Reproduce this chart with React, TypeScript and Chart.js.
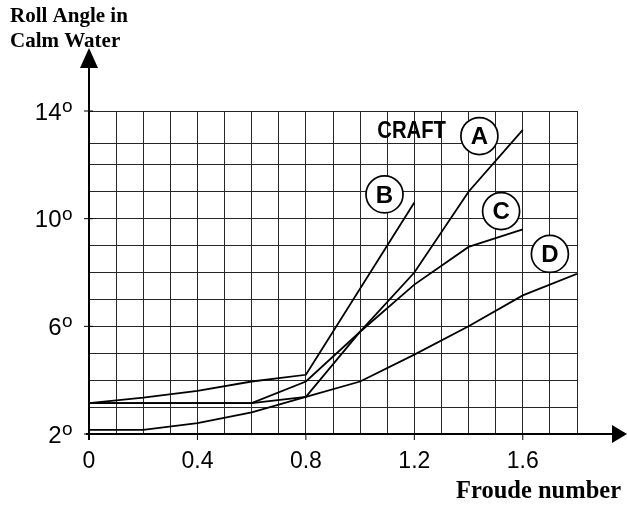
import React, { useEffect, useRef } from 'react';
import { Chart, registerables } from 'chart.js';

Chart.register(...registerables);

// Froude number (x) and roll angle in calm water, degrees (y), per craft
const craftAX = [0, 0.6, 0.8, 1.0, 1.2, 1.4, 1.6];
const craftAY = [3.15, 3.15, 3.38, 5.8, 8.0, 11.0, 13.3];
const craftBX = [0, 0.2, 0.4, 0.6, 0.8, 1.2];
const craftBY = [3.15, 3.35, 3.6, 3.95, 4.2, 10.6];
const craftCX = [0, 0.6, 0.8, 1.0, 1.2, 1.4, 1.6];
const craftCY = [3.15, 3.15, 3.95, 5.8, 7.55, 8.95, 9.6];
const craftDX = [0, 0.2, 0.4, 0.6, 0.8, 1.0, 1.2, 1.4, 1.6, 1.8];
const craftDY = [2.15, 2.15, 2.4, 2.8, 3.38, 3.95, 4.95, 6.0, 7.15, 7.95];

const xTickLabels = [0, 0.4, 0.8, 1.2, 1.6];
const yTickLabels = [2, 6, 10, 14];
const xGridLines = [0, 0.1, 0.2, 0.3, 0.4, 0.5, 0.6, 0.7, 0.8, 0.9, 1.0, 1.1, 1.2, 1.3, 1.4, 1.5, 1.6, 1.7, 1.8];
const yGridLines = [2, 3, 4, 5, 6, 7, 8, 9, 10, 11, 12, 12.8, 14];

// circled craft names, anchored in data coordinates
const craftNames = ['A', 'B', 'C', 'D'];
const craftNameX = [1.44, 1.09, 1.52, 1.70];
const craftNameY = [13.07, 10.9, 10.28, 8.69];
const craftHeading = 'CRAFT';
const craftHeadingX = 1.19;
const craftHeadingY = 13.25;

const yTitle = ['Roll Angle in', 'Calm Water'];
const xTitle = 'Froude number';

const toPoints = (xs: number[], ys: number[]) => xs.map((x, i) => ({ x, y: ys[i] }));

const overlay = {
  id: 'overlay',
  afterDraw(chart: any) {
    const { ctx, chartArea } = chart;
    const xs = chart.scales.x;
    const ys = chart.scales.y;
    const x0 = xs.getPixelForValue(0);
    const y0 = ys.getPixelForValue(2);
    ctx.save();
    ctx.strokeStyle = '#000';
    ctx.fillStyle = '#000';

    // axes
    ctx.lineWidth = 2;
    ctx.beginPath();
    ctx.moveTo(x0, y0 + 6);
    ctx.lineTo(x0, chartArea.top - 44);
    ctx.stroke();
    ctx.beginPath();
    ctx.moveTo(x0, chartArea.top - 63);
    ctx.lineTo(x0 - 9, chartArea.top - 43);
    ctx.lineTo(x0 + 9, chartArea.top - 43);
    ctx.closePath();
    ctx.fill();

    ctx.beginPath();
    ctx.moveTo(x0 - 3, y0);
    ctx.lineTo(chart.width - 14, y0);
    ctx.stroke();
    ctx.beginPath();
    ctx.moveTo(chart.width, y0);
    ctx.lineTo(chart.width - 15, y0 - 9);
    ctx.lineTo(chart.width - 15, y0 + 9);
    ctx.closePath();
    ctx.fill();

    // tick marks and labels
    ctx.lineWidth = 1;
    ctx.font = '23px "Liberation Sans", Arial, sans-serif';
    ctx.textBaseline = 'alphabetic';
    xTickLabels.forEach((v) => {
      const px = xs.getPixelForValue(v);
      ctx.beginPath();
      ctx.moveTo(px, y0);
      ctx.lineTo(px, y0 + 6);
      ctx.stroke();
      ctx.textAlign = 'center';
      ctx.fillText(String(v), px, y0 + 34);
    });
    yTickLabels.forEach((v) => {
      const py = ys.getPixelForValue(v);
      ctx.beginPath();
      ctx.moveTo(x0 - 5, py);
      ctx.lineTo(x0 + 4, py);
      ctx.stroke();
      ctx.font = '24px "Liberation Sans", Arial, sans-serif';
      ctx.textAlign = 'right';
      const base = py + 8.5;
      ctx.fillText(String(v), 61.5, base);
      ctx.font = '19px "Liberation Sans", Arial, sans-serif';
      ctx.textAlign = 'left';
      ctx.fillText('o', 62, base - 7.5);
    });

    // axis titles
    ctx.font = 'bold 21px "Liberation Serif", "Times New Roman", serif';
    ctx.textAlign = 'left';
    ctx.fillText(yTitle[0], 10, 22);
    ctx.fillText(yTitle[1], 10, 47);
    ctx.font = 'bold 24.5px "Liberation Serif", "Times New Roman", serif';
    ctx.textAlign = 'right';
    ctx.fillText(xTitle, 621, 498);

    // craft annotations
    ctx.textAlign = 'center';
    ctx.textBaseline = 'middle';
    ctx.font = 'bold 22px "Liberation Sans", Arial, sans-serif';
    const hx = xs.getPixelForValue(craftHeadingX);
    const hy = ys.getPixelForValue(craftHeadingY);
    ctx.save();
    ctx.translate(hx, hy);
    ctx.scale(0.92, 1.05);
    ctx.fillText(craftHeading, 0, 0);
    ctx.restore();
    craftNames.forEach((name, i) => {
      const cx = xs.getPixelForValue(craftNameX[i]);
      const cy = ys.getPixelForValue(craftNameY[i]);
      ctx.fillStyle = '#fff';
      ctx.beginPath();
      ctx.arc(cx, cy, 18.5, 0, Math.PI * 2);
      ctx.fill();
      ctx.lineWidth = 1.7;
      ctx.stroke();
      ctx.fillStyle = '#000';
      ctx.font = 'bold 24px "Liberation Sans", Arial, sans-serif';
      ctx.fillText(name, cx, cy + 1.5);
    });
    ctx.restore();
  },
};

export default function App() {
  const ref = useRef<HTMLCanvasElement | null>(null);
  useEffect(() => {
    if (!ref.current) return;
    const line = (xs: number[], ys: number[]) => ({
      data: toPoints(xs, ys),
      showLine: true,
      borderColor: '#000',
      borderWidth: 1.8,
      pointRadius: 0,
      tension: 0,
      fill: false,
    });
    const chart = new Chart(ref.current, {
      type: 'scatter',
      data: {
        datasets: [
          { label: 'A', ...line(craftAX, craftAY) },
          { label: 'B', ...line(craftBX, craftBY) },
          { label: 'C', ...line(craftCX, craftCY) },
          { label: 'D', ...line(craftDX, craftDY) },
        ],
      },
      options: {
        animation: false,
        responsive: false,
        devicePixelRatio: 1,
        layout: { padding: { left: 89, top: 111, right: 50, bottom: 71 } },
        plugins: { legend: { display: false }, tooltip: { enabled: false } },
        scales: {
          x: {
            type: 'linear',
            min: 0,
            max: 1.8,
            afterBuildTicks: (s: any) => {
              s.ticks = xGridLines.map((v) => ({ value: v }));
            },
            ticks: { display: false },
            grid: { color: '#262626', lineWidth: 1, drawTicks: false },
            border: { display: false },
          },
          y: {
            type: 'linear',
            min: 2,
            max: 14,
            afterBuildTicks: (s: any) => {
              s.ticks = yGridLines.map((v) => ({ value: v }));
            },
            ticks: { display: false },
            grid: { color: '#262626', lineWidth: 1, drawTicks: false },
            border: { display: false },
          },
        },
      },
      plugins: [overlay],
    } as any);
    return () => chart.destroy();
  }, []);
  return (
    <div style={{ position: 'absolute', left: 0, top: 0, width: 627, height: 505, background: '#fff' }}>
      <canvas ref={ref} width={627} height={505} style={{ width: 627, height: 505, display: 'block' }} />
    </div>
  );
}
